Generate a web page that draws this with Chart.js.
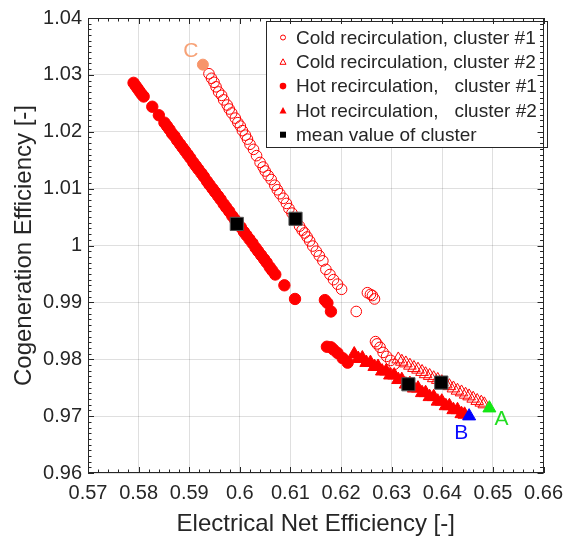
<!DOCTYPE html>
<html lang="en">
<head>
<meta charset="UTF-8">
<title>Cogeneration vs Electrical Net Efficiency</title>
<script src="https://cdn.jsdelivr.net/npm/chart.js"></script>
<style>
  body { margin: 0; background: #fff; }
  canvas { display: block; }
</style>
</head>
<body>
<canvas id="effChart" width="571" height="541"></canvas>
<script>
// axis ticks
const xTicks = [0.57, 0.58, 0.59, 0.60, 0.61, 0.62, 0.63, 0.64, 0.65, 0.66];
const xTickLabels = ['0.57', '0.58', '0.59', '0.6', '0.61', '0.62', '0.63', '0.64', '0.65', '0.66'];
const yTicks = [0.96, 0.97, 0.98, 0.99, 1.00, 1.01, 1.02, 1.03, 1.04];
const yTickLabels = ['0.96', '0.97', '0.98', '0.99', '1', '1.01', '1.02', '1.03', '1.04'];

const legendLabels = [
  'Cold recirculation, cluster #1',
  'Cold recirculation, cluster #2',
  'Hot recirculation,   cluster #1',
  'Hot recirculation,   cluster #2',
  'mean value of cluster'
];

// [electrical net efficiency, cogeneration efficiency]
const coldCluster1 = [
  [0.5939, 1.0302], [0.5944, 1.0294], [0.5949, 1.0287], [0.5953, 1.0279], [0.5958, 1.0270],
  [0.5964, 1.0264], [0.5968, 1.0256], [0.5975, 1.0247], [0.5979, 1.0240], [0.5984, 1.0233],
  [0.5991, 1.0224], [0.5996, 1.0216], [0.6001, 1.0210], [0.6005, 1.0202], [0.6011, 1.0194],
  [0.6015, 1.0187], [0.6020, 1.0178], [0.6027, 1.0169], [0.6033, 1.0158], [0.6040, 1.0146],
  [0.6046, 1.0138], [0.6050, 1.0131], [0.6056, 1.0123], [0.6062, 1.0116], [0.6069, 1.0106],
  [0.6074, 1.0098], [0.6079, 1.0091], [0.6086, 1.0083], [0.6092, 1.0074], [0.6097, 1.0065],
  [0.6103, 1.0057], [0.6110, 1.0045], [0.6118, 1.0034], [0.6123, 1.0027], [0.6128, 1.0022],
  [0.6133, 1.0015], [0.6138, 1.0008], [0.6144, 0.9999], [0.6151, 0.9990], [0.6157, 0.9982],
  [0.6164, 0.9973], [0.6170, 0.9958], [0.6178, 0.9949], [0.6185, 0.9940], [0.6193, 0.9932],
  [0.6201, 0.9923], [0.6230, 0.9884], [0.6252, 0.9917], [0.6258, 0.9914], [0.6262, 0.9912],
  [0.6266, 0.9906], [0.6268, 0.9831], [0.6271, 0.9827], [0.6277, 0.9821], [0.6283, 0.9812],
  [0.6290, 0.9805], [0.6298, 0.9798], [0.6305, 0.9791]
];

const coldCluster2 = [
  [0.6313, 0.9800], [0.6320, 0.9796], [0.6328, 0.9793], [0.6336, 0.9789], [0.6344, 0.9785],
  [0.6352, 0.9782], [0.6360, 0.9778], [0.6367, 0.9774], [0.6375, 0.9771], [0.6383, 0.9767],
  [0.6391, 0.9764], [0.6399, 0.9760], [0.6407, 0.9756], [0.6414, 0.9753], [0.6422, 0.9749],
  [0.6430, 0.9745], [0.6438, 0.9742], [0.6446, 0.9738], [0.6453, 0.9735], [0.6461, 0.9731],
  [0.6469, 0.9727], [0.6477, 0.9724], [0.6483, 0.9721]
];

const hotCluster1 = [
  [0.5790, 1.0286], [0.5794, 1.0281], [0.5798, 1.0276], [0.5802, 1.0271], [0.5806, 1.0266],
  [0.5810, 1.0262], [0.5827, 1.0244], [0.5840, 1.0229], [0.5851, 1.0216], [0.5856, 1.0210],
  [0.5861, 1.0204], [0.5866, 1.0197], [0.5871, 1.0192], [0.5876, 1.0185], [0.5882, 1.0178],
  [0.5887, 1.0172], [0.5892, 1.0166], [0.5897, 1.0160], [0.5902, 1.0154], [0.5908, 1.0146],
  [0.5913, 1.0140], [0.5918, 1.0134], [0.5924, 1.0127], [0.5929, 1.0121], [0.5935, 1.0113],
  [0.5940, 1.0107], [0.5946, 1.0100], [0.5951, 1.0094], [0.5957, 1.0087], [0.5962, 1.0081],
  [0.5968, 1.0073], [0.5973, 1.0067], [0.5979, 1.0060], [0.5985, 1.0052], [0.5990, 1.0046],
  [0.5996, 1.0039], [0.6002, 1.0032], [0.6008, 1.0024], [0.6013, 1.0018], [0.6019, 1.0011],
  [0.6025, 1.0004], [0.6031, 0.9996], [0.6036, 0.9990], [0.6042, 0.9983], [0.6048, 0.9976],
  [0.6053, 0.9970], [0.6059, 0.9962], [0.6064, 0.9956], [0.6070, 0.9949], [0.6088, 0.9930],
  [0.6109, 0.9906], [0.6168, 0.9904], [0.6173, 0.9899], [0.6180, 0.9884], [0.6172, 0.9822],
  [0.6180, 0.9821], [0.6185, 0.9817], [0.6193, 0.9811], [0.6203, 0.9802], [0.6213, 0.9794]
];

const hotCluster2 = [
  [0.6226, 0.9809], [0.6234, 0.9801], [0.6242, 0.9802], [0.6250, 0.9794], [0.6258, 0.9794],
  [0.6266, 0.9787], [0.6273, 0.9787], [0.6281, 0.9779], [0.6289, 0.9779], [0.6297, 0.9772],
  [0.6305, 0.9772], [0.6313, 0.9764], [0.6320, 0.9764], [0.6328, 0.9756], [0.6336, 0.9757],
  [0.6344, 0.9749], [0.6352, 0.9749], [0.6360, 0.9741], [0.6367, 0.9741], [0.6375, 0.9734],
  [0.6383, 0.9734], [0.6391, 0.9726], [0.6399, 0.9726], [0.6407, 0.9718], [0.6414, 0.9718],
  [0.6422, 0.9711], [0.6430, 0.9711], [0.6438, 0.9704], [0.6444, 0.9703]
];

const clusterMeans = [[0.5994, 1.0038], [0.6110, 1.0047], [0.6333, 0.9756], [0.6398, 0.9759]];

// highlighted operating points
const pointA = [[0.6493, 0.9714]];
const pointB = [[0.6453, 0.9700]];
const pointC = [[0.5927, 1.0318]];
const pointNames = ['A', 'B', 'C'];

const toXY = arr => arr.map(p => ({ x: p[0], y: p[1] }));

const RED = '#ff0000';
const INK = '#262626';
const FONT = "'Liberation Sans', Arial, sans-serif";

// legend inside the axes + A/B/C labels
const annotate = {
  id: 'annotate',
  afterDatasetsDraw(chart) {
    const { ctx, scales: { x, y } } = chart;
    ctx.save();

    // point labels
    const lbl = [
      { p: pointA[0], t: pointNames[0], c: '#22dd22', dx: 12, dy: 11 },
      { p: pointB[0], t: pointNames[1], c: '#0a0aff', dx: -8, dy: 17 },
      { p: pointC[0], t: pointNames[2], c: '#f7a277', dx: -12, dy: -13 }
    ];
    ctx.font = '21px ' + FONT;
    ctx.textAlign = 'center';
    ctx.textBaseline = 'middle';
    lbl.forEach(l => {
      ctx.fillStyle = l.c;
      ctx.fillText(l.t, x.getPixelForValue(l.p[0]) + l.dx, y.getPixelForValue(l.p[1]) + l.dy);
    });

    // legend box
    const bx = 266.5, by = 21.5, bw = 281, bh = 126;
    ctx.fillStyle = '#fff';
    ctx.fillRect(bx, by, bw, bh);
    ctx.strokeStyle = INK;
    ctx.lineWidth = 1;
    ctx.strokeRect(bx, by, bw, bh);

    ctx.font = '19px ' + FONT;
    ctx.textAlign = 'left';
    legendLabels.forEach((t, i) => {
      const cy = 37.5 + i * 24.3;
      const mx = 283;
      ctx.fillStyle = INK;
      ctx.fillText(t, 296, cy + 1);
      ctx.beginPath();
      if (i === 0) {
        ctx.arc(mx, cy, 2.5, 0, Math.PI * 2);
        ctx.strokeStyle = RED; ctx.stroke();
      } else if (i === 1) {
        ctx.moveTo(mx, cy - 3); ctx.lineTo(mx + 3, cy + 2.5); ctx.lineTo(mx - 3, cy + 2.5); ctx.closePath();
        ctx.strokeStyle = RED; ctx.stroke();
      } else if (i === 2) {
        ctx.arc(mx, cy, 3.3, 0, Math.PI * 2);
        ctx.fillStyle = RED; ctx.fill();
      } else if (i === 3) {
        ctx.moveTo(mx, cy - 3.5); ctx.lineTo(mx + 3.5, cy + 3); ctx.lineTo(mx - 3.5, cy + 3); ctx.closePath();
        ctx.fillStyle = RED; ctx.fill();
      } else {
        ctx.fillStyle = '#000';
        ctx.fillRect(mx - 3, cy - 3, 6, 6);
      }
    });
    ctx.restore();
  },
  afterDraw(chart) {
    // MATLAB-style box with inward ticks on all four sides
    const { ctx, chartArea: a, scales: { x, y } } = chart;
    ctx.save();
    ctx.strokeStyle = INK;
    ctx.lineWidth = 1;
    ctx.beginPath();
    for (let i = 0; i <= 45; i++) {
      const px = Math.round(x.getPixelForValue(0.57 + i * 0.002)) + 0.5;
      const len = i % 5 === 0 ? 6 : 3.5;
      ctx.moveTo(px, a.bottom); ctx.lineTo(px, a.bottom - len);
      ctx.moveTo(px, a.top); ctx.lineTo(px, a.top + len);
    }
    for (let i = 0; i <= 80; i++) {
      const py = Math.round(y.getPixelForValue(0.96 + i * 0.001)) + 0.5;
      const len = i % 10 === 0 ? 6 : 3.5;
      ctx.moveTo(a.left, py); ctx.lineTo(a.left + len, py);
      ctx.moveTo(a.right, py); ctx.lineTo(a.right - len, py);
    }
    ctx.stroke();
    ctx.strokeRect(Math.round(a.left) + 0.5, Math.round(a.top) + 0.5,
      Math.round(a.width) - 1, Math.round(a.height) - 1);
    ctx.restore();
  }
};

const ctx = document.getElementById('effChart').getContext('2d');

new Chart(ctx, {
  type: 'scatter',
  data: {
    datasets: [
      { label: 'A', data: toXY(pointA), pointStyle: 'triangle', pointRadius: 7.5,
        backgroundColor: '#14e614', borderColor: '#14e614', borderWidth: 1 },
      { label: 'B', data: toXY(pointB), pointStyle: 'triangle', pointRadius: 7.5,
        backgroundColor: '#0000ff', borderColor: '#0000ff', borderWidth: 1 },
      { label: 'C', data: toXY(pointC), pointStyle: 'circle', pointRadius: 5.5,
        backgroundColor: '#f7956a', borderColor: '#f7956a', borderWidth: 1 },
      { label: legendLabels[4], data: toXY(clusterMeans), pointStyle: 'rect', pointRadius: 9.3,
        backgroundColor: '#000', borderColor: '#555', borderWidth: 1 },
      { label: legendLabels[1], data: toXY(coldCluster2), pointStyle: 'triangle', pointRadius: 7.3,
        backgroundColor: 'rgba(0,0,0,0)', borderColor: RED, borderWidth: 1 },
      { label: legendLabels[0], data: toXY(coldCluster1), pointStyle: 'circle', pointRadius: 5.3,
        backgroundColor: 'rgba(0,0,0,0)', borderColor: RED, borderWidth: 1 },
      { label: legendLabels[3], data: toXY(hotCluster2), pointStyle: 'triangle', pointRadius: 7.6,
        backgroundColor: RED, borderColor: RED, borderWidth: 1 },
      { label: legendLabels[2], data: toXY(hotCluster1), pointStyle: 'circle', pointRadius: 5.7,
        backgroundColor: RED, borderColor: RED, borderWidth: 1 }
    ]
  },
  options: {
    responsive: false,
    animation: false,
    layout: { padding: { left: 0, right: 23, top: 13, bottom: 0 } },
    plugins: {
      legend: { display: false },
      tooltip: { enabled: false }
    },
    scales: {
      x: {
        type: 'linear',
        min: 0.57,
        max: 0.66,
        afterBuildTicks: s => { s.ticks = xTicks.map(v => ({ value: v })); },
        afterFit: s => { s.height = 68; },
        ticks: {
          callback: (v, i) => xTickLabels[i],
          font: { family: FONT, size: 20 },
          color: INK,
          padding: 8,
          maxRotation: 0
        },
        grid: { color: 'rgba(38,38,38,0.15)', drawTicks: false },
        border: { display: false },
        title: {
          display: true,
          text: 'Electrical Net Efficiency [-]',
          font: { family: FONT, size: 24 },
          color: INK,
          padding: { top: 0, bottom: 2 }
        }
      },
      y: {
        type: 'linear',
        min: 0.96,
        max: 1.04,
        afterBuildTicks: s => { s.ticks = yTicks.map(v => ({ value: v })); },
        afterFit: s => { s.width = 88; },
        ticks: {
          callback: (v, i) => yTickLabels[i],
          font: { family: FONT, size: 20 },
          color: INK,
          padding: 6
        },
        grid: { color: 'rgba(38,38,38,0.15)', drawTicks: false },
        border: { display: false },
        title: {
          display: true,
          text: 'Cogeneration Efficiency [-]',
          font: { family: FONT, size: 24 },
          color: INK,
          padding: { top: 10, bottom: 0 }
        }
      }
    }
  },
  plugins: [annotate]
});
</script>
</body>
</html>
